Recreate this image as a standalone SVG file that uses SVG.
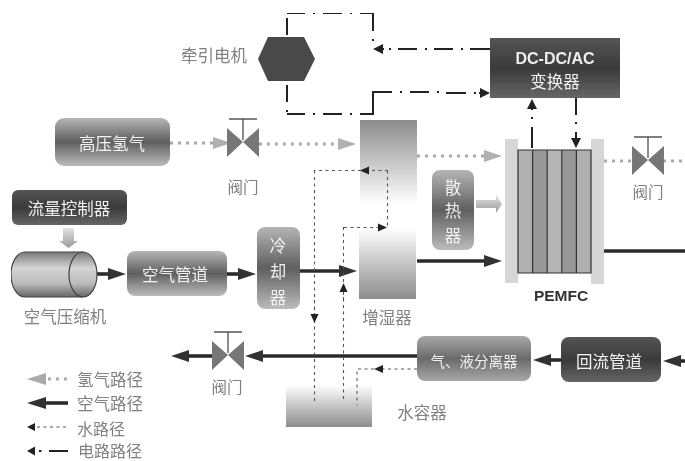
<svg xmlns="http://www.w3.org/2000/svg" xmlns:xlink="http://www.w3.org/1999/xlink" width="685" height="461" viewBox="0 0 685 461">
<style>
text{font-family:"Noto Sans CJK SC","Liberation Sans",sans-serif;text-anchor:middle;dominant-baseline:central}
.w{fill:#f2f2f2;font-size:16.500px}
.l{fill:#808080;font-size:16.500px}
.v{font-size:15.500px}
.air{fill:none;stroke:#2c2c2c;stroke-width:3.600}
.h2{fill:none;stroke:#aaa;stroke-width:3;stroke-dasharray:3 5}
.wat{fill:none;stroke:#555;stroke-width:1.100;stroke-dasharray:3 3.500}
.el{fill:none;stroke:#222;stroke-width:2}
.mAir{marker-end:url(#aAir)}.mH{marker-end:url(#aH)}.mW{marker-end:url(#aW)}.mE{marker-end:url(#aE)}
</style>
<defs>
<linearGradient id="gBox" x1="0" y1="0" x2="0" y2="1"><stop offset="0" stop-color="#b5b5b5"/><stop offset=".5" stop-color="#5f5f5f"/><stop offset="1" stop-color="#bcbcbc"/></linearGradient>
<linearGradient id="gDark" x1="0" y1="0" x2="0" y2="1"><stop offset="0" stop-color="#555"/><stop offset=".5" stop-color="#3a3a3a"/><stop offset="1" stop-color="#666"/></linearGradient>
<linearGradient id="gSep" x1="0" y1="0" x2="0" y2="1"><stop offset="0" stop-color="#a8a8a8"/><stop offset=".5" stop-color="#6a6a6a"/><stop offset="1" stop-color="#a8a8a8"/></linearGradient>
<linearGradient id="gCyl" x1="0" y1="0" x2="0" y2="1"><stop offset="0" stop-color="#777"/><stop offset=".35" stop-color="#d4d4d4"/><stop offset=".7" stop-color="#bbb"/><stop offset="1" stop-color="#666"/></linearGradient>
<linearGradient id="gDown" x1="0" y1="0" x2="0" y2="1"><stop offset="0" stop-color="#8c8c8c"/><stop offset="1" stop-color="#fff"/></linearGradient>
<linearGradient id="gUp" x1="0" y1="0" x2="0" y2="1"><stop offset="0" stop-color="#fff"/><stop offset="1" stop-color="#8c8c8c"/></linearGradient>
<linearGradient id="gArr" x1="0" y1="0" x2="0" y2="1"><stop offset="0" stop-color="#e2e2e2"/><stop offset="1" stop-color="#999"/></linearGradient>
<marker id="aAir" markerUnits="userSpaceOnUse" markerWidth="19" markerHeight="14" refX="0" refY="7" orient="auto"><path d="M0 1L18 7L0 13Z" fill="#333"/></marker>
<marker id="aH" markerUnits="userSpaceOnUse" markerWidth="19" markerHeight="14" refX="0" refY="7" orient="auto"><path d="M0 1L18 7L0 13Z" fill="#b0b0b0"/></marker>
<marker id="aW" markerUnits="userSpaceOnUse" markerWidth="10" markerHeight="10" refX="0" refY="5" orient="auto"><path d="M0 1L9 5L0 9Z" fill="#222"/></marker>
<marker id="aE" markerUnits="userSpaceOnUse" markerWidth="11" markerHeight="12" refX="0" refY="6" orient="auto"><path d="M0 1L10 6L0 11Z" fill="#222"/></marker>
<g id="valve"><path d="M-16 -15L0 -1L-16 14ZM16 -15L0 -1L16 14Z" fill="#777"/><path d="M0 -24V-3" stroke="#666" stroke-width="1.500"/><path d="M-14 -24H14" stroke="#555" stroke-width="1.500"/></g>
<filter id="soft" x="0" y="0" width="100%" height="100%"><feGaussianBlur stdDeviation="0.600"/></filter>
</defs>
<rect width="685" height="461" fill="#fff"/>
<g filter="url(#soft)">
<g id="humidifier">
<rect x="360" y="120" width="57" height="84" fill="url(#gDown)"/>
<rect x="359" y="228" width="57" height="71" fill="url(#gUp)"/>
<text class="l" x="387" y="317">增湿器</text>
</g>
<g id="tank"><rect x="286" y="385" width="86" height="42" fill="url(#gUp)"/><text class="l" x="422" y="412">水容器</text></g>
<g id="connectors">
<path class="el" d="M287 13H305M313 13h2M323 13H342M350 13h2M360 13H373V31M373 39v2M287 18V35"/>
<path class="el" d="M287 85V102M287 110v2M287 114H305M313 114h2M323 114H342M350 114h2M360 114H373V92H392M400 92h2M410 92H429M437 92h2M446 93H466M474 93h2"/>
<path class="el" d="M490 49H470M463 49h-2M453 49H434M427 49h-2M417 49H398M391 49h-2"/>
<path class="el mE" d="M384 49H383"/>
<path class="el mE" d="M479 93H480"/>
<path class="el" d="M532 148V127M532 119v-2"/>
<path class="el mE" d="M532 110V109"/>
<path class="el" d="M576 98V115M576 122v2M576 132V138"/>
<path class="el mE" d="M576 137V138"/>
<path class="h2 mH" d="M170 143H213"/>
<path class="h2 mH" d="M259 144H338"/>
<path class="h2 mH" d="M417 156H484"/>
<path class="h2" d="M604 161H633"/>
<path class="h2" d="M663 161H685"/>
<path class="air mAir" d="M97 274H108"/>
<path class="air mAir" d="M227 274H238"/>
<path class="air mAir" d="M300 271H339"/>
<path class="air mAir" d="M417 261H484"/>
<path class="air" d="M604 251H685"/>
<path class="air mAir" d="M417 356H263"/>
<path class="air mAir" d="M212 356H189"/>
<path class="air mAir" d="M561 360H551"/>
<path class="air mAir" d="M685 361H681"/>
<path class="wat" d="M314.500 170.500V403"/>
<path class="wat mW" d="M388 170.500H369"/>
<path class="wat" d="M361 170.500H314"/>
<path class="wat mW" d="M314.500 300V314"/>
<path class="wat mW" d="M344 227.500H378"/>
<path class="wat" d="M387.500 170.500V227"/>
<path class="wat" d="M343.500 227V400"/>
<path class="wat mW" d="M343.500 300V292"/>
<path class="wat mW" d="M417 369H383"/>
<path class="wat" d="M374 369H357V405"/>
</g>
<g id="motor">
<path d="M268 37H304L315 59L304 81H268L258 59Z" fill="#4a4a4a"/>
<text class="l" x="214" y="55">牵引电机</text>
</g>
<g id="dcdc">
<rect x="490" y="38" width="130" height="60" fill="url(#gDark)"/>
<text x="555" y="58" fill="#eee" font-size="16" font-weight="700" style="font-family:'Liberation Sans',sans-serif">DC-DC/AC</text>
<text class="w" x="555" y="81">变换器</text>
</g>
<g id="pemfc">
<rect x="505" y="139" width="13" height="144" fill="#d6d6d6"/>
<rect x="591" y="139" width="13" height="145" fill="#d6d6d6"/>
<rect x="518" y="150" width="14.600" height="123" fill="#b0b0b0"/>
<rect x="532.600" y="150" width="14.600" height="123" fill="#989898"/>
<rect x="547.200" y="150" width="14.600" height="123" fill="#b4b4b4"/>
<rect x="561.800" y="150" width="14.600" height="123" fill="#989898"/>
<rect x="576.400" y="150" width="14.600" height="123" fill="#b0b0b0"/>
<path d="M518 150H591V273H518ZM532.600 150V273M547.200 150V273M561.800 150V273M576.400 150V273" fill="none" stroke="#333" stroke-width="1.200"/>
<text x="561" y="295" fill="#333" font-size="15.500" font-weight="700" style="font-family:'Liberation Sans',sans-serif">PEMFC</text>
</g>
<g id="hydrogen"><rect x="55" y="118" width="115" height="48" rx="9" fill="url(#gBox)"/><text class="w" x="112" y="143">高压氢气</text></g>
<g id="valve1"><use xlink:href="#valve" x="243" y="143"/><text class="l v" x="243" y="186">阀门</text></g>
<g id="valve2"><use xlink:href="#valve" x="648" y="161"/><text class="l v" x="648" y="191">阀门</text></g>
<g id="valve3"><use xlink:href="#valve" x="228" y="356"/><text class="l v" x="227" y="386">阀门</text></g>
<g id="flow"><rect x="12" y="190" width="115" height="35" rx="6" fill="url(#gDark)"/><text class="w" x="69" y="208">流量控制器</text></g>
<g id="flow-arrow"><path d="M63 228H74V241H78L68.500 248L59 241H63Z" fill="url(#gArr)"/></g>
<g id="compressor">
<rect x="25" y="252" width="60" height="45" fill="url(#gCyl)"/>
<ellipse cx="25" cy="274.500" rx="14" ry="22.500" fill="url(#gCyl)"/>
<path d="M25 252H83M25 297H83M25 252A14 22.500 0 0 0 25 297" fill="none" stroke="#444" stroke-width="1.200"/>
<ellipse cx="83" cy="274.500" rx="14" ry="22.500" fill="url(#gCyl)" stroke="#444" stroke-width="1.200"/>
<text class="l" x="65" y="316">空气压缩机</text>
</g>
<g id="duct"><rect x="127" y="251" width="100" height="45" rx="8" fill="url(#gBox)"/><text class="w" x="175" y="274">空气管道</text></g>
<g id="cooler"><rect x="257" y="227" width="43" height="82" rx="8" fill="url(#gBox)"/><text class="w" x="278" y="245">冷</text><text class="w" x="278" y="271">却</text><text class="w" x="278" y="297">器</text></g>
<g id="radiator"><rect x="432" y="170" width="42" height="80" rx="8" fill="url(#gBox)"/><text class="w" x="453" y="187">散</text><text class="w" x="453" y="210">热</text><text class="w" x="453" y="235">器</text></g>
<g id="radiator-arrow"><path d="M476 200H496V195L502 204L496 213V208H476Z" fill="url(#gArr)"/></g>
<g id="separator"><rect x="417" y="336" width="114" height="45" rx="8" fill="url(#gSep)"/><text class="w" x="474" y="360" style="font-size:14.500px">气、液分离器</text></g>
<g id="return"><rect x="561" y="337" width="100" height="45" rx="8" fill="url(#gDark)"/><text class="w" x="609" y="361">回流管道</text></g>
<g id="legend">
<path class="h2" d="M48 379H68"/><path d="M46 373L27 379L46 385Z" fill="#aaa"/>
<text class="l" x="110" y="379">氢气路径</text>
<path class="air" d="M46 403H68"/><path d="M46 397L27 403L46 409Z" fill="#333"/>
<text class="l" x="110" y="403">空气路径</text>
<path class="wat" d="M37 427H68"/><path d="M35 423L27 427L35 431Z" fill="#222"/>
<text class="l" x="101" y="428" style="font-size:16px">水路径</text>
<path d="M39 451H41.500M49 451H68" fill="none" stroke="#222" stroke-width="2"/><path d="M35 446.500L27 451L35 455.500Z" fill="#222"/>
<text class="l" x="110" y="450" style="font-size:16px">电路路径</text>
</g>
</g>
</svg>
